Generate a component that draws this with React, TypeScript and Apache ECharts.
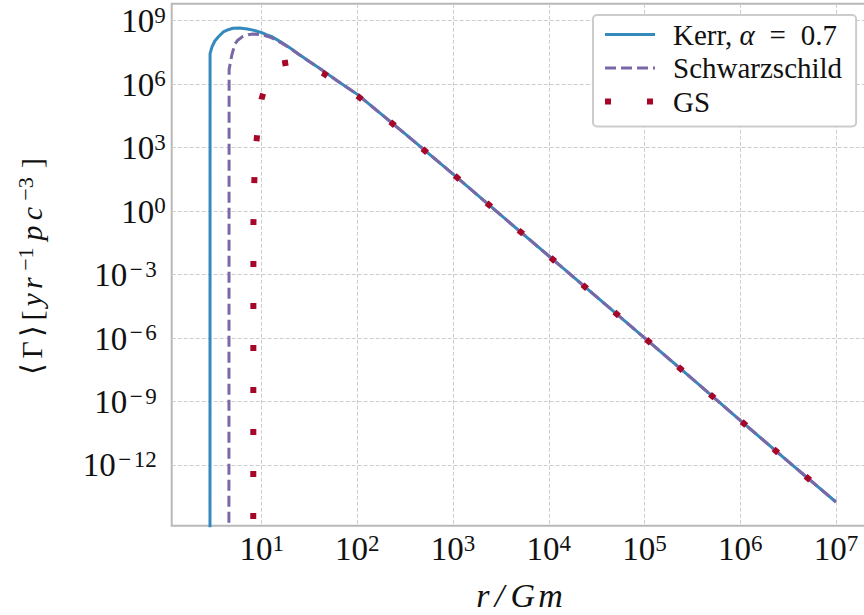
import React, { useEffect, useRef } from "react";
import * as echarts from "echarts";

// radius r (units of Gm) and rate <Gamma> [yr^-1 pc^-3]; 0 = no rate (inside ISCO)
const kerrR = [2.45, 2.82, 2.877, 2.89, 3.02, 3.24, 3.55, 3.98, 4.47, 5.01, 5.89, 7.08, 8.13, 10, 11.2, 12.6, 15.8, 20, 25.1, 31.6, 39.8, 63.1, 100, 316, 1e3, 3162, 1e4, 31623, 1e5, 316228, 1e6, 3162278, 1e7];
const kerrRate = [0, 0, 0, 2.8e7, 5.6e7, 1.1e8, 1.8e8, 2.95e8, 3.75e8, 4.4e8, 4.55e8, 4.1e8, 3.6e8, 2.75e8, 2.19e8, 1.82e8, 1.0e8, 5.0e7, 2.4e7, 1.17e7, 5.9e6, 1.35e6, 3.3e5, 4.47e3, 56.2, 0.646, 7.59e-3, 8.91e-5, 1.02e-6, 1.17e-8, 1.29e-10, 1.48e-12, 1.78e-14];

const schwR = [2.45, 4.4, 4.52, 4.57, 4.86, 5.25, 5.62, 6.31, 7.24, 8.13, 9.55, 11.2, 12.6, 15.8, 20, 25.1, 31.6, 39.8, 63.1, 100, 316, 1e3, 3162, 1e4, 31623, 1e5, 316228, 1e6, 3162278, 1e7];
const schwRate = [0, 0, 0, 5.0e6, 2.24e7, 7.9e7, 1.2e8, 1.78e8, 2.19e8, 2.34e8, 2.24e8, 1.9e8, 1.58e8, 9.3e7, 4.8e7, 2.35e7, 1.16e7, 5.85e6, 1.34e6, 3.28e5, 4.45e3, 56, 0.643, 7.56e-3, 8.88e-5, 1.02e-6, 1.17e-8, 1.29e-10, 1.48e-12, 1.78e-14];

const gsR = [2.45, 8.11, 8.2, 8.37, 8.61, 8.87, 9.33, 10, 10.6, 11.2, 12.6, 14.1, 16.4, 20, 25.1, 31.6, 43.4, 63.1, 100, 224, 316, 1e3, 3162, 1e4, 31623, 1e5, 316228, 1e6, 3162278, 1e7];
const gsRate = [0, 0, 0.25, 24, 400, 2.5e3, 2.8e4, 2.1e5, 5.0e5, 8.9e5, 2.0e6, 4.0e6, 9.5e6, 1.1e7, 9.3e6, 6.8e6, 3.4e6, 1.12e6, 2.8e5, 1.58e4, 4.2e3, 56, 0.646, 7.59e-3, 8.91e-5, 1.02e-6, 1.17e-8, 1.29e-10, 1.48e-12, 1.78e-14];

const seriesNames = ["Kerr, α = 0.7", "Schwarzschild", "GS"];
const xTickExps = [1, 2, 3, 4, 5, 6, 7];
const yTickExps = [-12, -9, -6, -3, 0, 3, 6, 9];
const xLimitExps = [0.06, 7.33];
const yLimitExps = [-14.87, 9.8];

const FLOOR = -40; // log10 stand-in for a zero rate (drawn far below the axis, clipped)
const toLog = (r: number[], g: number[]) =>
  r.map((x, i) => [Math.log10(x), g[i] > 0 ? Math.log10(g[i]) : FLOOR]);

const SERIF = "Liberation Serif";
const TXT = "#111111";

export default function App() {
  const ref = useRef<HTMLDivElement>(null);
  useEffect(() => {
    document.body.style.margin = "0";
    const chart = echarts.init(ref.current!, null, { renderer: "svg" });
    const expLabel = (v: number) => {
      const n = Math.round(v);
      return n < 0 ? `{b|10}{m|−}{sn|${-n}}` : `{b|10}{s|${n}}`;
    };
    const base = { fontFamily: SERIF, fontSize: 33, lineHeight: 34, color: TXT, verticalAlign: "bottom" };
    const sup = { fontFamily: SERIF, fontSize: 23, lineHeight: 20, color: TXT, verticalAlign: "top" };
    const minus = { ...sup, width: 18, align: "center" };
    const yRich = { b: base, s: sup, m: minus, sn: { ...sup, padding: [0, 9, 0, 0] } };
    const xRich = { b: base, s: sup, m: minus, sn: sup };
    const gridLine = { show: true, lineStyle: { color: "#cdcdcd", width: 1, type: [4, 2] } };

    const nm = (w: number, italic = false, align = "center") => ({
      fontFamily: SERIF, fontSize: 30, lineHeight: 32, color: TXT, verticalAlign: "bottom",
      fontStyle: italic ? "italic" : "normal", width: w, align,
    });
    const ns = (w: number) => ({
      fontFamily: SERIF, fontSize: 22, lineHeight: 18, color: TXT, verticalAlign: "top", width: w, align: "center",
    });
    const xn = (w: number) => ({
      fontFamily: SERIF, fontSize: 34, lineHeight: 40, color: TXT, fontStyle: "italic", width: w, align: "center",
    });

    chart.setOption({
      animation: false,
      backgroundColor: "#ffffff",
      textStyle: { fontFamily: SERIF },
      grid: {
        left: 171.7,
        top: 3.8,
        right: -3.5,
        bottom: 89.3,
        show: true,
        borderColor: "#b8b8b8",
        borderWidth: 2,
        backgroundColor: "#ffffff",
        containLabel: false,
        outerBoundsMode: "none",
      },
      legend: {
        orient: "vertical",
        left: 593,
        top: 15,
        selectedMode: false,
        backgroundColor: "#ffffff",
        borderColor: "#cccccc",
        borderWidth: 2,
        borderRadius: 4,
        padding: [5, 14, 10.5, 9],
        itemWidth: 50,
        itemHeight: 14,
        itemGap: 4.5,
        lineStyle: { width: "inherit" },
        itemStyle: { opacity: 0 },
        data: [seriesNames[0], seriesNames[1], { name: seriesNames[2], lineStyle: { dashOffset: 0 } }],
        formatter: (name: string) =>
          name === seriesNames[0] ? "{n|Kerr, }{i|α}{e|=}{n|0.7}" : `{n|${name}}`,
        textStyle: {
          color: TXT,
          fontFamily: SERIF,
          fontSize: 29,
          lineHeight: 26,
          padding: [0, 0, 0, 13],
          rich: {
            n: { fontFamily: SERIF, fontSize: 29, lineHeight: 26, color: TXT },
            i: { fontFamily: SERIF, fontSize: 29, lineHeight: 26, color: TXT, fontStyle: "italic" },
            e: { fontFamily: SERIF, fontSize: 29, lineHeight: 26, color: TXT, width: 46, align: "center" },
          },
        },
      },
      xAxis: {
        type: "value",
        min: xLimitExps[0],
        max: xLimitExps[1],
        axisLine: { show: false },
        axisTick: { show: false, customValues: xTickExps },
        splitLine: gridLine,
        axisLabel: { customValues: xTickExps, margin: 6, formatter: expLabel, rich: xRich },
        name: "{r|r}{sl|/}{g|G}{mm|m}",
        nameLocation: "middle",
        nameGap: 50,
        nameTextStyle: {
          fontFamily: SERIF,
          rich: { r: xn(15), sl: xn(18), g: xn(28.7), mm: xn(26.6) },
        },
      },
      yAxis: {
        type: "value",
        min: yLimitExps[0],
        max: yLimitExps[1],
        axisLine: { show: false },
        axisTick: { show: false, customValues: yTickExps },
        splitLine: gridLine,
        axisLabel: { customValues: yTickExps, margin: 6, formatter: expLabel, rich: yRich },
        name: "{la|⟨}{G|Γ}{ra|⟩}{lb|[}{y|y}{r|r}{s1|−1}{p|p}{c|c}{s3|−3}{rb|]}",
        nameLocation: "middle",
        nameRotate: 90,
        nameGap: 125,
        nameTextStyle: {
          fontFamily: SERIF,
          rich: {
            la: nm(15.85),
            G: nm(21.85),
            ra: nm(16.5),
            lb: nm(14),
            y: nm(17, true),
            r: nm(16.5, true),
            s1: ns(31.5),
            p: nm(21, true),
            c: nm(17.5, true),
            s3: ns(32),
            rb: nm(20, false, "left"),
          },
        },
      },
      series: [
        {
          type: "line",
          name: seriesNames[0],
          data: toLog(kerrR, kerrRate),
          symbol: "none",
          showSymbol: false,
          clip: true,
          lineStyle: { color: "#348ABD", width: 3 },
          itemStyle: { color: "#348ABD" },
          emphasis: { disabled: true },
        },
        {
          type: "line",
          name: seriesNames[1],
          data: toLog(schwR, schwRate),
          symbol: "none",
          showSymbol: false,
          clip: true,
          lineStyle: { color: "#7A68A6", width: 3, type: [11, 5] },
          itemStyle: { color: "#7A68A6" },
          emphasis: { disabled: true },
        },
        {
          type: "line",
          name: seriesNames[2],
          data: toLog(gsR, gsRate),
          symbol: "none",
          showSymbol: false,
          clip: true,
          lineStyle: { color: "#A60628", width: 6, type: [6, 36], cap: "butt", dashOffset: 0 },
          itemStyle: { color: "#A60628" },
          emphasis: { disabled: true },
        },
      ],
    });
    return () => chart.dispose();
  }, []);
  return <div ref={ref} style={{ position: "absolute", left: 0, top: 0, width: 864, height: 615 }} />;
}
